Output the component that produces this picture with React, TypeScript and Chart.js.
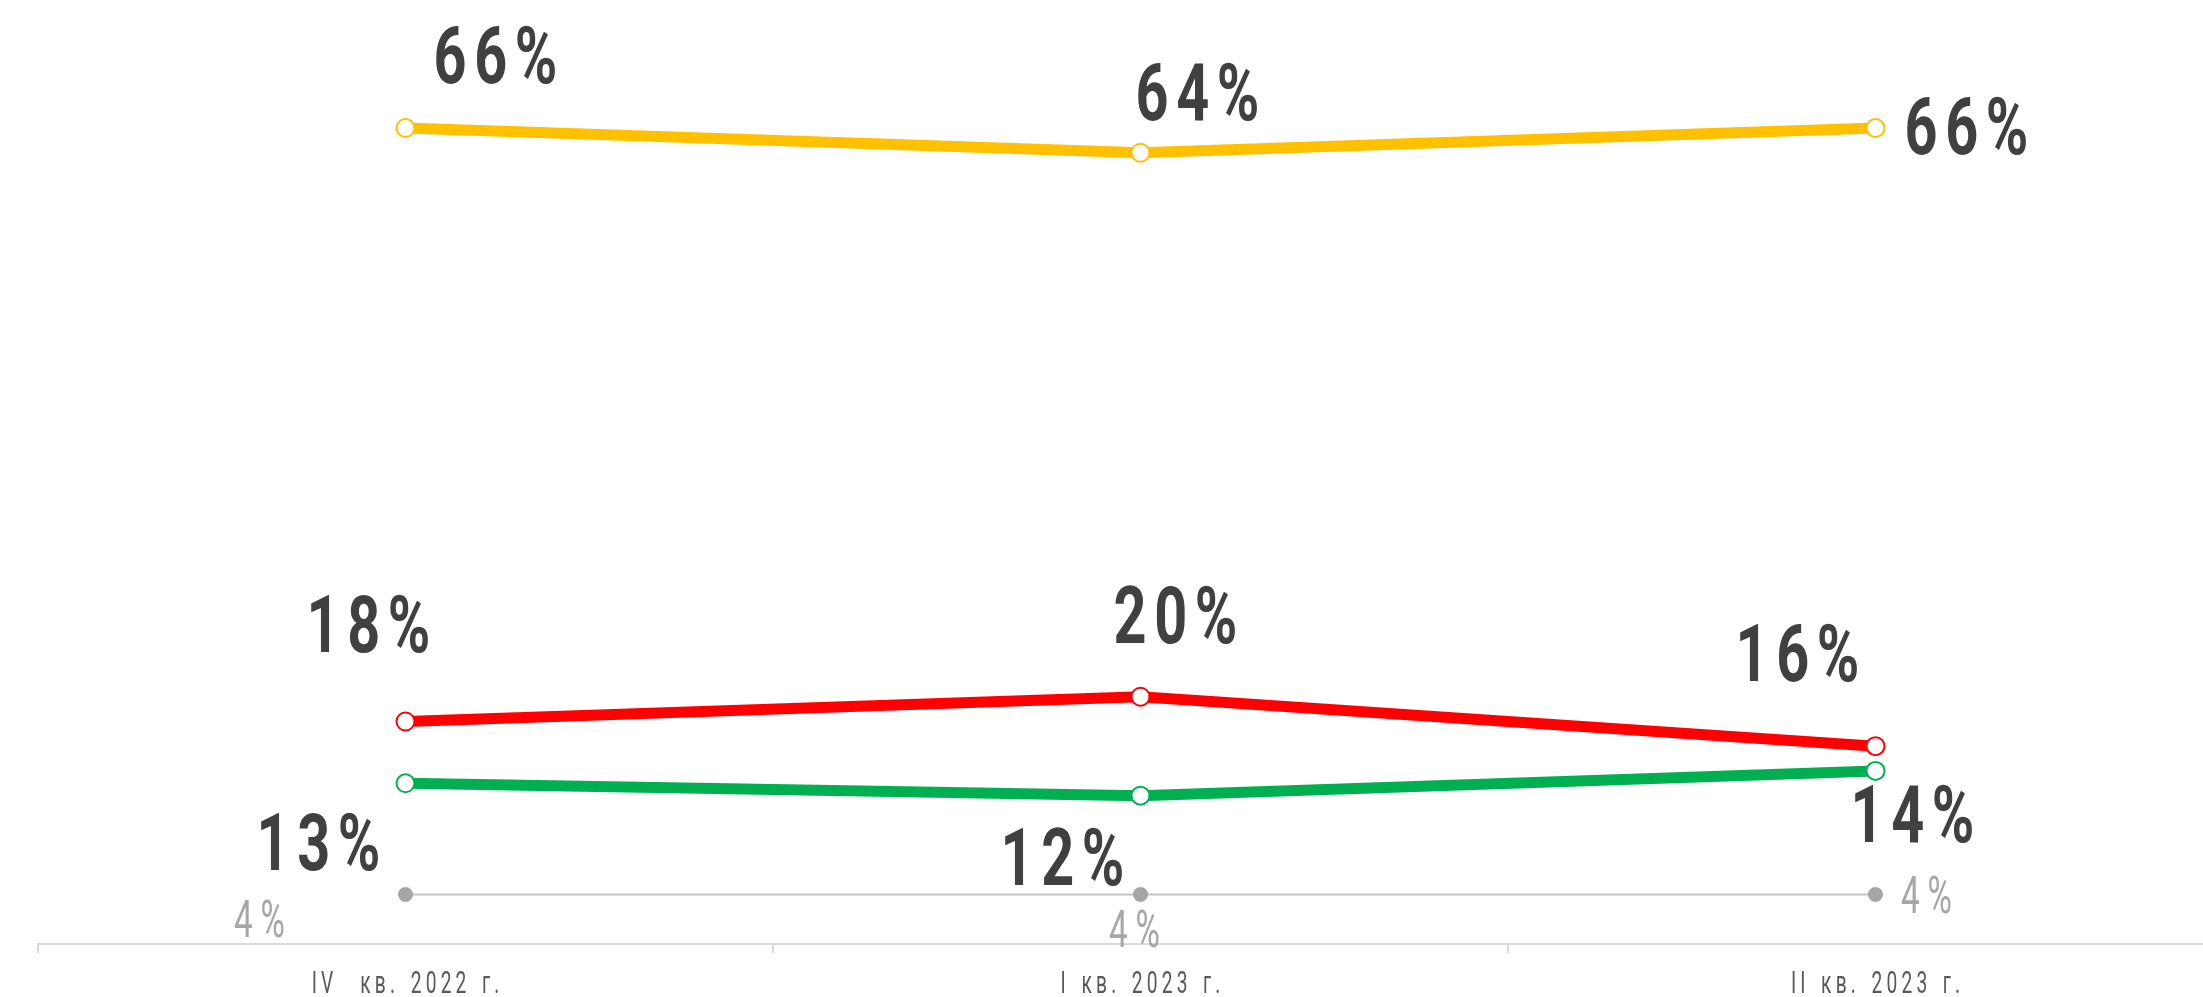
import React, { useEffect, useRef } from "react";
import { Chart, registerables } from "chart.js";

Chart.register(...registerables);

const categories = ["IV  кв. 2022 г.", "I кв. 2023 г.", "II кв. 2023 г."];
const yellowValues = [66, 64, 66];
const redValues = [18, 20, 16];
const greenValues = [13, 12, 14];
const grayValues = [4, 4, 4];

const FONT = "Roboto, 'Liberation Sans', sans-serif";

// label offsets relative to each point (px), per dataset
const labelOffsets: number[][][] = [
  [[90, -73], [57, -61], [91, -2]],
  [[-37, -98], [35, -82], [-78, -94]],
  [[-87, 58], [-78, 61], [37, 43]],
  [[-146, 24], [-6, 34], [51, 0]],
];
const labelStyles = [
  { size: 80, weight: "bold", color: "#404040", sx: 0.72, ls: 10.5 },
  { size: 80, weight: "bold", color: "#404040", sx: 0.72, ls: 10.5 },
  { size: 80, weight: "bold", color: "#404040", sx: 0.72, ls: 10.5 },
  { size: 52, weight: "normal", color: "#A6A6A6", sx: 0.64, ls: 12 },
];

function drawCondensed(
  ctx: CanvasRenderingContext2D,
  text: string,
  cx: number,
  baseline: number,
  font: string,
  color: string,
  sx: number,
  ls: number,
  ws: number
) {
  ctx.save();
  ctx.font = font;
  ctx.fillStyle = color;
  ctx.textAlign = "left";
  ctx.textBaseline = "alphabetic";
  const anyCtx = ctx as any;
  anyCtx.letterSpacing = "0px";
  anyCtx.wordSpacing = "0px";
  const base = ctx.measureText(text).width;
  const spaces = (text.match(/ /g) || []).length;
  const w = base + ls * (text.length - 1) + ws * spaces;
  anyCtx.letterSpacing = ls + "px";
  anyCtx.wordSpacing = ws + "px";
  ctx.translate(cx, baseline);
  ctx.scale(sx, 1);
  ctx.fillText(text, -w / 2, 0);
  ctx.restore();
}

const labelPlugin = {
  id: "valueLabels",
  afterDatasetsDraw(chart: any) {
    const ctx = chart.ctx;
    chart.data.datasets.forEach((ds: any, i: number) => {
      const meta = chart.getDatasetMeta(i);
      const st = labelStyles[i];
      meta.data.forEach((pt: any, j: number) => {
        const [dx, dy] = labelOffsets[i][j];
        const cap = st.size * 0.711;
        drawCondensed(
          ctx,
          `${ds.data[j]}%`,
          pt.x + dx,
          pt.y + dy + cap / 2,
          `${st.weight} ${st.size}px ${FONT}`,
          st.color,
          st.sx,
          st.ls,
          0
        );
      });
    });
  },
  afterDraw(chart: any) {
    const ctx = chart.ctx;
    const xs = chart.scales.x;
    const labels: string[] = chart.data.labels;
    labels.forEach((lab, i) => {
      const x = xs.getPixelForTick(i);
      drawCondensed(
        ctx,
        lab,
        x,
        chart.chartArea.bottom + 49,
        `normal 32px ${FONT}`,
        "#595959",
        0.6,
        7,
        4
      );
    });
  },
};

export default function App() {
  const ref = useRef<HTMLCanvasElement | null>(null);
  useEffect(() => {
    if (!ref.current) return;
    const lineDs = (data: number[], color: string) => ({
      data,
      borderColor: color,
      borderWidth: 11,
      pointRadius: 9,
      pointBorderWidth: 2,
      pointBackgroundColor: "#FFFFFF",
      pointBorderColor: color,
      tension: 0,
      clip: false as any,
    });
    const chart = new Chart(ref.current, {
      type: "line",
      data: {
        labels: categories,
        datasets: [
          lineDs(yellowValues, "#FFC000"),
          lineDs(redValues, "#FF0000"),
          lineDs(greenValues, "#00B050"),
          {
            data: grayValues,
            borderColor: "#C4C4C4",
            borderWidth: 2,
            pointRadius: 7.5,
            pointBorderWidth: 0,
            pointBackgroundColor: "#A6A6A6",
            pointBorderColor: "#A6A6A6",
            clip: false as any,
          },
        ],
      },
      options: {
        responsive: false,
        animation: false,
        devicePixelRatio: 1,
        layout: { padding: { left: 38, right: 0, top: 78.6, bottom: 0 } },
        plugins: { legend: { display: false }, tooltip: { enabled: false } },
        scales: {
          x: {
            type: "category",
            offset: true,
            grid: {
              display: true,
              drawOnChartArea: false,
              drawTicks: true,
              tickLength: 9,
              color: "#D9D9D9",
              lineWidth: 2,
              offset: true,
            },
            border: { display: true, color: "#D9D9D9", width: 2 },
            ticks: { display: false, autoSkip: false, maxRotation: 0 },
            afterFit: (s: any) => {
              s.height = 53;
            },
          },
          y: { display: false, min: 0, max: 70 },
        },
      },
      plugins: [labelPlugin],
    });
    return () => chart.destroy();
  }, []);
  return (
    <div
      style={{
        position: "fixed",
        left: 0,
        top: 0,
        width: 2203,
        height: 997,
        overflow: "hidden",
        background: "#FFFFFF",
      }}
    >
      <canvas ref={ref} width={2254} height={997} style={{ display: "block" }} />
    </div>
  );
}
